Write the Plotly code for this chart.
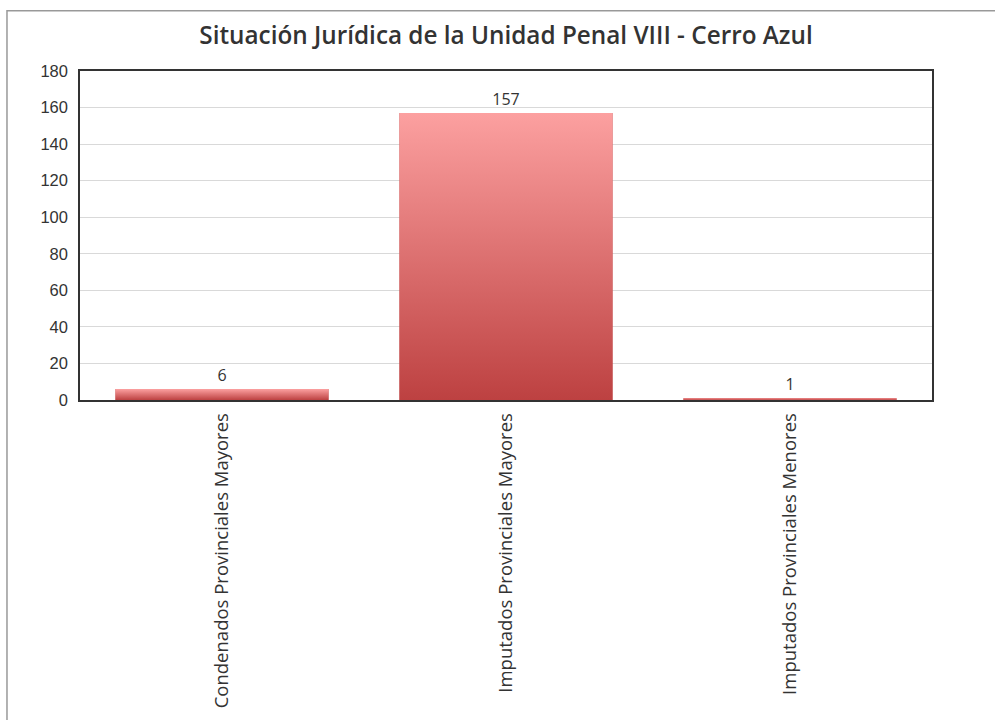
import plotly.graph_objects as go

categorias = ['Condenados Provinciales Mayores', 'Imputados Provinciales Mayores',
              'Imputados Provinciales Menores']
valores = [6, 157, 1]
y_ticks = [0, 20, 40, 60, 80, 100, 120, 140, 160, 180]

color_top = '#fca0a0'
color_bottom = '#bd4141'
ancho = 0.75

idx = list(range(len(categorias)))

fig = go.Figure()

# base bars (carry the value labels)
fig.add_trace(go.Bar(
    x=idx, y=valores, width=ancho,
    marker=dict(color=color_bottom, line=dict(width=0)),
    text=[str(v) for v in valores], textposition='outside',
    textfont=dict(family='Open Sans', size=16, color='#333333'),
    cliponaxis=False, showlegend=False
))

# vertical gradient on top of each bar
for i, v in zip(idx, valores):
    fig.add_trace(go.Scatter(
        x=[i - ancho / 2, i + ancho / 2, i + ancho / 2, i - ancho / 2, i - ancho / 2],
        y=[0, 0, v, v, 0],
        mode='lines', fill='toself', line=dict(width=0),
        fillgradient=dict(type='vertical',
                          colorscale=[[0, color_bottom], [1, color_top]]),
        hoverinfo='skip', showlegend=False
    ))

fig.update_layout(
    width=995, height=720,
    margin=dict(l=80, r=63, t=71, b=317),
    paper_bgcolor='white', plot_bgcolor='white',
    title=dict(text='Situación Jurídica de la Unidad Penal VIII - Cerro Azul',
               x=0.5, xref='paper', xanchor='center',
               y=0.951, yref='container', yanchor='middle',
               font=dict(family='Open Sans', size=24.3, color='#333333', weight=600)),
    xaxis=dict(
        tickvals=idx, ticktext=categorias, tickangle=-90,
        range=[-0.5, len(categorias) - 0.5],
        tickfont=dict(family='Open Sans', size=18.5, color='#333333'),
        showline=True, linecolor='#333333', linewidth=1.5, mirror=True,
        showgrid=False, zeroline=False, ticks='', ticklabelstandoff=4
    ),
    yaxis=dict(
        range=[0, 180], tickvals=y_ticks,
        tickfont=dict(family='Liberation Sans', size=16.5, color='#333333'),
        showline=True, linecolor='#333333', linewidth=1.5, mirror=True,
        gridcolor='#d9d9d9', gridwidth=1, zeroline=False, ticks='',
        ticklabelstandoff=7
    ),
    shapes=[dict(type='rect', xref='paper', yref='paper',
                 x0=-0.0857, x1=1.2, y0=-1.1, y1=1.183,
                 line=dict(color='#999999', width=1.5), layer='below')],
    bargap=0.25
)

fig.write_html('out.html', config={'displayModeBar': False},
               post_script="document.body.style.margin='0';")
